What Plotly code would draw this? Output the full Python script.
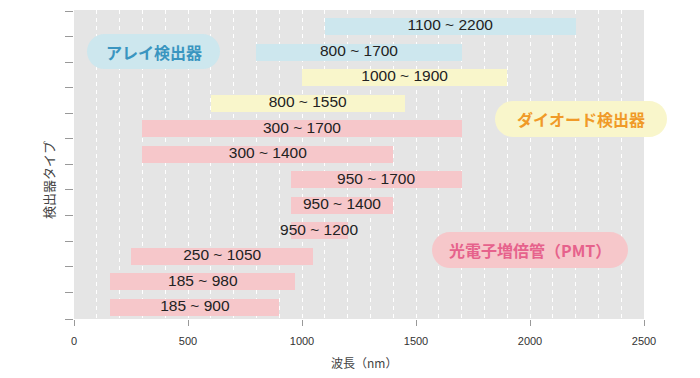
import plotly.graph_objects as go

# Data (top to bottom)
labels = ["1100 ~ 2200", "800 ~ 1700", "1000 ~ 1900", "800 ~ 1550", "300 ~ 1700",
          "300 ~ 1400", "950 ~ 1700", "950 ~ 1400", "950 ~ 1200", "250 ~ 1050",
          "185 ~ 980", "185 ~ 900"]
starts = [1100, 800, 1000, 600, 300, 300, 950, 950, 950, 250, 160, 160]
ends = [2200, 1700, 1900, 1450, 1700, 1400, 1700, 1400, 1200, 1050, 970, 900]
groups = ["array", "array", "diode", "diode", "pmt", "pmt", "pmt", "pmt", "pmt", "pmt", "pmt", "pmt"]
group_names = {"array": "アレイ検出器", "diode": "ダイオード検出器", "pmt": "光電子増倍管（PMT）"}
x_ticks = [0, 500, 1000, 1500, 2000, 2500]

fill = {"array": "#cde7ee", "diode": "#f9f6cb", "pmt": "#f6c7ca"}
text_col = {"array": "#3a95c0", "diode": "#f09a28", "pmt": "#e6628c"}

n = len(labels)
ypos = [n - 1 - i for i in range(n)]

fig = go.Figure()
fig.add_trace(go.Bar(
    y=ypos, x=[e - s for s, e in zip(starts, ends)], base=starts, orientation="h",
    marker=dict(color=[fill[g] for g in groups], line=dict(width=0)),
    width=0.665, hoverinfo="skip", showlegend=False,
))
fig.add_trace(go.Scatter(
    y=ypos, x=[(s + e) / 2 for s, e in zip(starts, ends)], mode="text", text=labels,
    textfont=dict(family="Liberation Sans, Arial, sans-serif", size=15.5, color="#222222"),
    textposition="middle center", hoverinfo="skip", showlegend=False,
))

# page offset (browser default body margin) and plot-area geometry in screen pixels
OFF = 8
FW, FH = 700 - OFF, 378 - OFF
L, R, T, B = 74, 644, 10, 319
W, H = R - L, B - T


def pp(px, py):
    return (px - L) / W, (B - py) / H


def pill(x0, y0, x1, y1):
    r = (y1 - y0) / 2
    k = 0.5523 * r
    cy = (y0 + y1) / 2
    def P(a, b):
        u, v = pp(a, b)
        return f"{u:.5f},{v:.5f}"
    d = f"M {P(x0 + r, y0)} L {P(x1 - r, y0)} "
    d += f"C {P(x1 - r + k, y0)} {P(x1, cy - k)} {P(x1, cy)} "
    d += f"C {P(x1, cy + k)} {P(x1 - r + k, y1)} {P(x1 - r, y1)} "
    d += f"L {P(x0 + r, y1)} "
    d += f"C {P(x0 + r - k, y1)} {P(x0, cy + k)} {P(x0, cy)} "
    d += f"C {P(x0, cy - k)} {P(x0 + r - k, y0)} {P(x0 + r, y0)} Z"
    return d


pills = {"array": (87, 34, 220, 69), "diode": (495, 101, 667, 137), "pmt": (432, 232, 628, 268)}
for g, (x0, y0, x1, y1) in pills.items():
    fig.add_shape(type="path", path=pill(x0, y0, x1, y1), xref="paper", yref="paper",
                  fillcolor=fill[g], line=dict(width=0), layer="above")
    cx, cy = pp((x0 + x1) / 2, (y0 + y1) / 2)
    fig.add_annotation(x=cx, y=cy, xref="paper", yref="paper", text=f"<b>{group_names[g]}</b>",
                       xanchor="center", yanchor="middle",
                       showarrow=False, font=dict(family="Noto Sans CJK JP", size=16, color=text_col[g]))

# y-axis title
ax, ay = pp(48, 180)
fig.add_annotation(x=ax, y=ay, xref="paper", yref="paper", text="検出器タイプ", textangle=-90,
                   xanchor="center", yanchor="middle",
                   showarrow=False, font=dict(family="Noto Sans CJK JP", size=13, color="#444444"))

# x-axis title
tx, ty = pp(364, 362)
fig.add_annotation(x=tx, y=ty, xref="paper", yref="paper", text="波長（nm）",
                   xanchor="center", yanchor="middle",
                   showarrow=False, font=dict(family="Noto Sans CJK JP", size=12, color="#444444"))

fig.update_layout(
    width=FW, height=FH,
    margin=dict(l=L - OFF, r=700 - R, t=T - OFF, b=378 - B, autoexpand=False),
    paper_bgcolor="white", plot_bgcolor="#e5e5e5", bargap=0,
    xaxis=dict(range=[0, 2500], tickvals=x_ticks, ticks="outside", ticklen=6, tickcolor="#999999",
               tickfont=dict(family="Liberation Sans, Arial, sans-serif", size=11, color="#333333"),
               ticklabelstandoff=6, automargin=False,
               showgrid=True, gridcolor="white", gridwidth=1, griddash="4px,4px",
               minor=dict(dtick=100, tick0=0, showgrid=True, gridcolor="white", gridwidth=1, griddash="4px,4px"),
               zeroline=False, showline=False),
    yaxis=dict(range=[-0.45, n - 0.354], tickvals=[-0.45] + [i + 0.6 for i in range(n)], showticklabels=False,
               automargin=False,
               ticks="outside", ticklen=8, tickcolor="#999999", showgrid=False, zeroline=False, showline=False),
)

fig.write_html("out.html")
